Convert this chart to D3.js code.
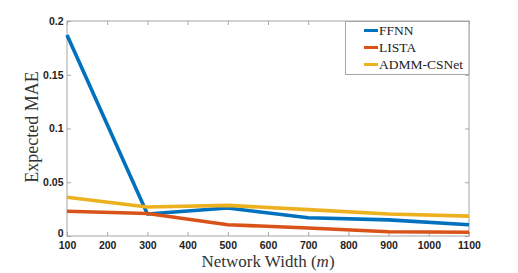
<!DOCTYPE html>
<html>
<head>
<meta charset="utf-8">
<script src="https://cdn.jsdelivr.net/npm/d3@7"></script>
<style>
  body { margin: 0; background: #fff; }
  svg { display: block; }
</style>
</head>
<body>
<svg id="chart" width="518" height="273"></svg>
<script>
const widths = [100, 300, 500, 700, 900, 1100];
const ffnn = [0.187, 0.0205, 0.026, 0.017, 0.015, 0.0105];
const lista = [0.023, 0.021, 0.0105, 0.0075, 0.004, 0.0035];
const admm = [0.036, 0.027, 0.0285, 0.0245, 0.0205, 0.0185];
const seriesNames = ["FFNN", "LISTA", "ADMM-CSNet"];
const seriesColors = ["#0072BD", "#D95319", "#EDB120"];
const xTicks = [100, 200, 300, 400, 500, 600, 700, 800, 900, 1000, 1100];
const yTicks = [0, 0.05, 0.1, 0.15, 0.2];
const yTickLabels = ["0", "0.05", "0.1", "0.15", "0.2"];

const svg = d3.select("#chart");
const L = 67, R = 469, T = 21, B = 236;
const x = d3.scaleLinear().domain([100, 1100]).range([L, R]);
const y = d3.scaleLinear().domain([0, 0.2]).range([B, T]);

const axisColor = "#a6a6a6";
const tickFont = "'Liberation Sans', Arial, sans-serif";
const serif = "'Liberation Serif', 'DejaVu Serif', serif";

// box
svg.append("rect").attr("x", L).attr("y", T).attr("width", R - L).attr("height", B - T)
  .attr("fill", "none").attr("stroke", axisColor).attr("stroke-width", 1);

function styleAxis(g) {
  g.select(".domain").remove();
  g.selectAll(".tick line").attr("stroke", axisColor);
  g.selectAll(".tick text").attr("fill", "#222").style("font-family", tickFont)
    .style("font-size", "10.5px").style("font-weight", "bold");
}

svg.append("g").attr("transform", `translate(0,${B})`)
  .call(d3.axisBottom(x).tickValues(xTicks).tickSize(-4).tickPadding(6).tickFormat(d3.format("d")))
  .call(styleAxis);
svg.append("g").attr("transform", `translate(0,${T})`)
  .call(d3.axisTop(x).tickValues(xTicks).tickSize(-4).tickFormat(""))
  .call(styleAxis);
const yAx = svg.append("g").attr("transform", `translate(${L},0)`)
  .call(d3.axisLeft(y).tickValues(yTicks).tickSize(-4).tickPadding(3.5).tickFormat((d, i) => yTickLabels[i]))
  .call(styleAxis);
yAx.selectAll(".tick text").filter(d => d === 0).attr("y", -2.5);
svg.append("g").attr("transform", `translate(${R},0)`)
  .call(d3.axisRight(y).tickValues(yTicks).tickSize(-4).tickFormat(""))
  .call(styleAxis);

const allSeries = [ffnn, lista, admm];
const line = d3.line().x((d, i) => x(widths[i])).y(d => y(d));
allSeries.forEach((s, k) => {
  svg.append("path").datum(s).attr("d", line).attr("fill", "none")
    .attr("stroke", seriesColors[k]).attr("stroke-width", 3.6).attr("stroke-linejoin", "round");
});

// axis labels
svg.append("text").attr("x", 268).attr("y", 267).attr("text-anchor", "middle")
  .style("font-family", serif).style("font-size", "17px").attr("fill", "#333")
  .html("Network Width (<tspan font-style='italic'>m</tspan>)");
svg.append("text").attr("transform", `translate(38,127) rotate(-90)`).attr("text-anchor", "middle")
  .style("font-family", serif).style("font-size", "18px").attr("fill", "#333")
  .text("Expected MAE");

// legend
const lg = svg.append("g");
lg.append("rect").attr("x", 345.5).attr("y", T + 0.5).attr("width", R - 345.5).attr("height", 53)
  .attr("fill", "#fff").attr("stroke", axisColor).attr("stroke-width", 1);
seriesNames.forEach((n, k) => {
  const yy = 30.5 + k * 17;
  lg.append("line").attr("x1", 364).attr("x2", 378).attr("y1", yy).attr("y2", yy)
    .attr("stroke", seriesColors[k]).attr("stroke-width", 3);
  lg.append("text").attr("x", 379).attr("y", yy + 4.5).style("font-family", serif)
    .style("font-size", "13.5px").attr("fill", "#222").text(n);
});
</script>
</body>
</html>
